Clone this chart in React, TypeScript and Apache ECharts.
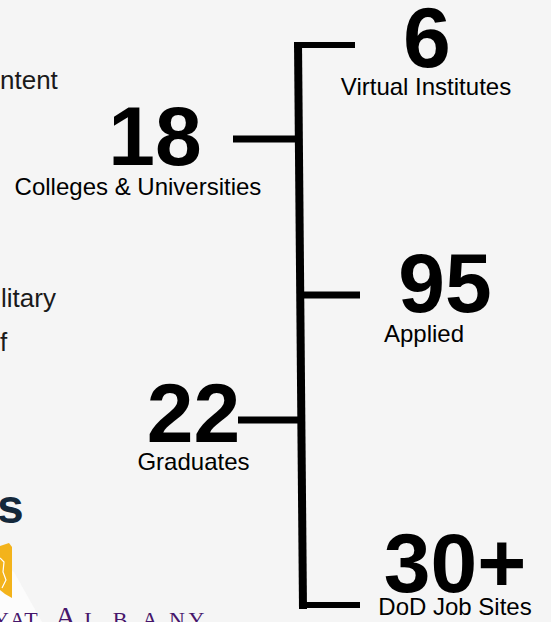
import React, { useEffect, useRef } from "react";
import * as echarts from "echarts";

// ---- data ----
const statValues = ["6", "18", "95", "22", "30+"];
const statLabels = [
  "Virtual Institutes",
  "Colleges & Universities",
  "Applied",
  "Graduates",
  "DoD Job Sites",
];
const sideFragments = ["ntent", "litary", "f"];
const headingFragment = "s";
const logoLetters = ["Y", "A", "T", "A", "L", "B", "A", "N", "Y"];

// ---- layout (positions / sizes) ----
const numCX = [427, 155, 445, 193.5, 455];
const numBase = [67, 165, 312, 442, 592];
const numSize = [86, 84, 84, 84, 84];
const lblCX = [426, 138, 424, 193.5, 455];
const lblBase = [95, 195, 342, 470, 615];

const fragX = [0, 1, 0];
const fragBase = [89, 307, 351];

const logoCX = [1, 17.5, 31, 65.5, 91, 120, 150, 177, 196.5];
const logoSize = [22, 22, 22, 30, 22, 22, 22, 22, 22];

const SANS = '"Liberation Sans", Arial, sans-serif';
const SERIF = '"Liberation Serif", "Times New Roman", serif';

export default function App() {
  const ref = useRef<HTMLDivElement>(null);

  useEffect(() => {
    if (!ref.current) return;
    const chart = echarts.init(ref.current, null, { renderer: "svg" });

    const els: any[] = [];

    // subtle light band behind logo
    els.push({
      type: "polygon",
      shape: { points: [[0, 560], [14, 572], [42, 622], [0, 622]] },
      style: { fill: "#fcfcfc" },
      silent: true,
    });
    // yellow shield
    els.push({
      type: "polygon",
      shape: { points: [[0, 546], [9, 543], [12, 547], [12, 598], [5, 594], [0, 590]] },
      style: { fill: "#f3b31b" },
    });
    els.push({
      type: "polyline",
      shape: { points: [[0, 558], [4, 562], [3, 572], [6, 580], [2, 588]] },
      style: { stroke: "#ffffff", lineWidth: 1.2, fill: "none" },
    });

    // bracket lines
    const lines: [number, number, number, number, number][] = [
      [298, 42, 303, 609, 8],
      [294, 45, 355, 45, 6],
      [233, 139, 297, 139, 7],
      [300, 295, 360, 295, 7],
      [238, 420, 302, 420, 7],
      [302, 605, 360, 605, 6],
    ];
    lines.forEach(([x1, y1, x2, y2, w]) =>
      els.push({
        type: "line",
        shape: { x1, y1, x2, y2 },
        style: { stroke: "#000000", lineWidth: w, lineCap: "butt" },
      })
    );

    // stats
    statValues.forEach((v, i) => {
      const f = numSize[i];
      els.push({
        type: "text",
        style: {
          text: v,
          x: numCX[i],
          y: numBase[i] - 0.3465 * f,
          fill: "#000000",
          font: `bold ${f}px ${SANS}`,
          textAlign: "center",
          textVerticalAlign: "middle",
        },
      });
      els.push({
        type: "text",
        style: {
          text: statLabels[i],
          x: lblCX[i],
          y: lblBase[i] - 0.3465 * 24,
          fill: "#000000",
          font: `24px ${SANS}`,
          textAlign: "center",
          textVerticalAlign: "middle",
        },
      });
    });

    // left fragments
    sideFragments.forEach((t, i) => {
      els.push({
        type: "text",
        style: {
          text: t,
          x: fragX[i],
          y: fragBase[i] - 0.3465 * 26,
          fill: "#1a1a1a",
          font: `26px ${SANS}`,
          textAlign: "left",
          textVerticalAlign: "middle",
        },
      });
    });
    els.push({
      type: "text",
      style: {
        text: headingFragment,
        x: -3,
        y: 523 - 0.3465 * 48,
        fill: "#14283b",
        font: `bold 48px ${SANS}`,
        textAlign: "left",
        textVerticalAlign: "middle",
      },
    });

    // logo wordmark
    logoLetters.forEach((ch, i) => {
      const f = logoSize[i];
      els.push({
        type: "text",
        style: {
          text: ch,
          x: logoCX[i],
          y: 627 - 0.3375 * f,
          fill: "#46166b",
          font: `${f}px ${SERIF}`,
          textAlign: "center",
          textVerticalAlign: "middle",
        },
      });
    });

    chart.setOption({
      animation: false,
      backgroundColor: "#f5f5f5",
      graphic: { elements: els },
    });

    return () => chart.dispose();
  }, []);

  return (
    <div
      ref={ref}
      style={{ position: "fixed", left: 0, top: 0, width: 551, height: 622 }}
    />
  );
}
